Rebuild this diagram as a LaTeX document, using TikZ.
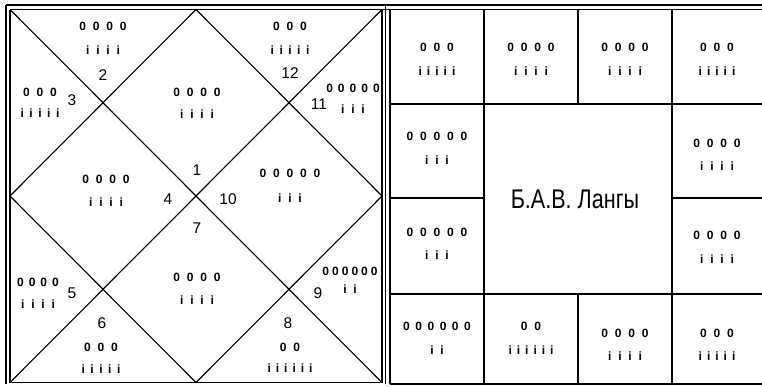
\documentclass[tikz,border=0pt]{standalone}
\usepackage{fontspec}
\setmainfont{Liberation Sans}
\newfontfamily\smf{Liberation Sans}
\makeatletter
\def\trkgap{6.8pt}
\newcommand\trk[2][6.8pt]{\def\trkgap{#1}\trk@a#2\relax}
\def\trk@a#1{#1\futurelet\trk@next\trk@b}
\def\trk@b{\ifx\trk@next\relax\expandafter\@gobble\else\kern\trkgap\expandafter\trk@a\fi}
\makeatother
\tikzset{
  sm/.style={font=\smf\bfseries\fontsize{12}{14}\selectfont, inner sep=0pt},
  num/.style={font=\fontsize{15.5}{17}\selectfont, inner sep=0pt},
  frame/.style={line width=1.6pt},
  ln/.style={line width=1.1pt},
}
\begin{document}
\begin{tikzpicture}[x=1pt,y=-1pt]
\useasboundingbox (0,0) rectangle (762,386);
% frames
\draw[frame] (6,5) -- (762,5);
\draw[ln] (10,9.5) -- (762,9.5);
\draw[frame] (6,5) -- (6,384);
\draw[ln] (10,9.5) -- (10,382.5) -- (382,382.5) -- (382,9.5);
\draw[ln] (385.5,5) -- (385.5,384);
\draw[ln] (390,9.5) -- (390,384);
\draw[ln] (390,384) -- (762,384);
% left chart
\coordinate (tl) at (10,9.5); \coordinate (tr) at (382,9.5);
\coordinate (bl) at (10,382.5); \coordinate (br) at (382,382.5);
\coordinate (tm) at (196,9.5); \coordinate (rm) at (382,196);
\coordinate (bm) at (196,382.5); \coordinate (lm) at (10,196);
\draw[ln] (tl) -- (br);
\draw[ln] (tr) -- (bl);
\draw[ln] (tm) -- (rm) -- (bm) -- (lm) -- cycle;
% right grid
\coordinate (g1) at (390,104); \coordinate (g2) at (762,104);
\coordinate (g3) at (390,294); \coordinate (g4) at (762,294);
\draw[ln] (g1) -- (g2);
\draw[ln] (g3) -- (g4);
\draw[ln] (390,198) -- (484,198);
\draw[ln] (672,198) -- (762,198);
\draw[ln] (484,9.5) -- (484,384);
\draw[ln] (672,9.5) -- (672,384);
\draw[ln] (578,9.5) -- (578,104);
\draw[ln] (578,294) -- (578,384);
% left chart texts
\node[sm] (h2a) at (103,26) {\trk{0000}};
\node[sm] (h2b) at (103,50) {\trk{iiii}};
\node[num] (n2) at (103,75) {2};
\node[sm] (h3a) at (40,92) {\trk{000}};
\node[sm] (h3b) at (40,113) {\trk[5.5pt]{iiiii}};
\node[num] (n3) at (72,100) {3};
\node[sm] (h12a) at (290,26) {\trk{000}};
\node[sm] (h12b) at (290,50) {\trk[5.5pt]{iiiii}};
\node[num] (n12) at (290,73) {12};
\node[sm] (h11a) at (353,88) {\trk[5pt]{00000}};
\node[sm] (h11b) at (353,109) {\trk{iii}};
\node[num] (n11) at (319,104) {11};
\node[sm] (h1a) at (197,92) {\trk{0000}};
\node[sm] (h1b) at (197,114) {\trk{iiii}};
\node[num] (n1) at (197,170) {1};
\node[sm] (h4a) at (106,179) {\trk{0000}};
\node[sm] (h4b) at (106,202) {\trk{iiii}};
\node[num] (n4) at (168,199) {4};
\node[sm] (h10a) at (290,173) {\trk{00000}};
\node[sm] (h10b) at (290,198) {\trk{iii}};
\node[num] (n10) at (228,199) {10};
\node[num] (n7) at (197,228) {7};
\node[sm] (h7a) at (197,277) {\trk{0000}};
\node[sm] (h7b) at (197,300) {\trk{iiii}};
\node[sm] (h5a) at (38,282) {\trk[5pt]{0000}};
\node[sm] (h5b) at (38,304) {\trk{iiii}};
\node[num] (n5) at (72,293) {5};
\node[num] (n6) at (102,323) {6};
\node[sm] (h6a) at (101,347) {\trk{000}};
\node[sm] (h6b) at (101,369) {\trk[5.5pt]{iiiii}};
\node[sm] (h9a) at (350,271) {\trk[3pt]{000000}};
\node[sm] (h9b) at (350,289) {\trk{ii}};
\node[num] (n9) at (318,293) {9};
\node[num] (n8) at (288,323) {8};
\node[sm] (h8a) at (290,347) {\trk{00}};
\node[sm] (h8b) at (290,368) {\trk[5pt]{iiiiii}};
% right grid texts
\node[sm] (r11a) at (437,47) {\trk{000}};
\node[sm] (r11b) at (437,71) {\trk[5pt]{iiiii}};
\node[sm] (r12a) at (531,47) {\trk{0000}};
\node[sm] (r12b) at (531,71) {\trk{iiii}};
\node[sm] (r13a) at (625,47) {\trk{0000}};
\node[sm] (r13b) at (625,71) {\trk{iiii}};
\node[sm] (r14a) at (717,47) {\trk{000}};
\node[sm] (r14b) at (717,71) {\trk[5pt]{iiiii}};
\node[sm] (r21a) at (437,136) {\trk{00000}};
\node[sm] (r21b) at (437,160) {\trk{iii}};
\node[sm] (r24a) at (717,143) {\trk{0000}};
\node[sm] (r24b) at (717,166) {\trk{iiii}};
\node[sm] (r31a) at (437,232) {\trk{00000}};
\node[sm] (r31b) at (437,255) {\trk{iii}};
\node[sm] (r34a) at (717,235) {\trk{0000}};
\node[sm] (r34b) at (717,259) {\trk{iiii}};
\node[sm] (r41a) at (437,326) {\trk[5.5pt]{000000}};
\node[sm] (r41b) at (437,350) {\trk{ii}};
\node[sm] (r42a) at (531,326) {\trk{00}};
\node[sm] (r42b) at (531,350) {\trk[5pt]{iiiiii}};
\node[sm] (r43a) at (625,333) {\trk{0000}};
\node[sm] (r43b) at (625,356) {\trk{iiii}};
\node[sm] (r44a) at (717,333) {\trk{000}};
\node[sm] (r44b) at (717,356) {\trk[5pt]{iiiii}};
\node[inner sep=0pt, font=\fontsize{27}{30}\selectfont] (title) at (575,199) {\scalebox{0.8}[1]{Б.А.В. Лангы}};
\end{tikzpicture}
\end{document}
